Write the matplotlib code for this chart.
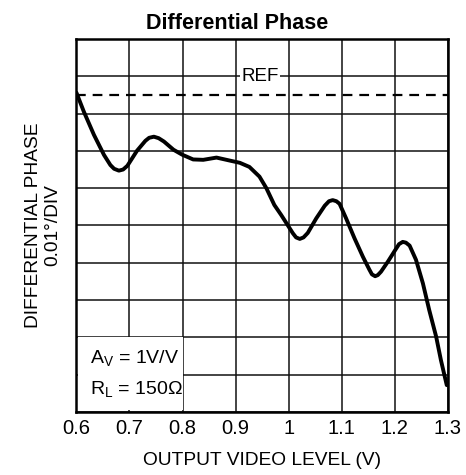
import numpy as np
import matplotlib
matplotlib.use("Agg")
import matplotlib.pyplot as plt
from matplotlib.patches import Rectangle

plt.rcParams['font.family'] = ['Liberation Sans', 'DejaVu Sans']
plt.rcParams['lines.scale_dashes'] = False

# curve: output level (V) vs phase (grid divisions, 0 = bottom)
volts = [0.600, 0.614, 0.633, 0.652, 0.664, 0.671, 0.680, 0.688, 0.696, 0.714,
         0.730, 0.737, 0.746, 0.755, 0.765, 0.783, 0.799, 0.820, 0.839, 0.864,
         0.889, 0.908, 0.926, 0.945, 0.958, 0.973, 0.986, 0.995, 1.008, 1.014,
         1.021, 1.028, 1.036, 1.052, 1.068, 1.076, 1.083, 1.090, 1.096, 1.108,
         1.124, 1.140, 1.152, 1.157, 1.163, 1.168, 1.174, 1.187, 1.199, 1.208,
         1.215, 1.221, 1.228, 1.240, 1.253, 1.265, 1.278, 1.287, 1.298]
phase = [8.56, 8.05, 7.43, 6.89, 6.62, 6.52, 6.47, 6.50, 6.60, 7.00,
         7.27, 7.35, 7.38, 7.34, 7.25, 7.03, 6.90, 6.77, 6.76, 6.82,
         6.74, 6.68, 6.57, 6.31, 6.00, 5.55, 5.28, 5.08, 4.79, 4.68,
         4.64, 4.68, 4.80, 5.19, 5.53, 5.65, 5.68, 5.65, 5.58, 5.20,
         4.66, 4.16, 3.82, 3.69, 3.64, 3.67, 3.76, 4.03, 4.30, 4.50,
         4.56, 4.54, 4.46, 4.08, 3.45, 2.73, 2.02, 1.39, 0.72]
ref_level = 8.5
xticks = [0.6, 0.7, 0.8, 0.9, 1.0, 1.1, 1.2, 1.3]
xtick_labels = ['0.6', '0.7', '0.8', '0.9', '1', '1.1', '1.2', '1.3']

fig = plt.figure(figsize=(4.66, 4.75), dpi=100)
ax = fig.add_axes([0.164, 0.1326, 0.797, 0.7854])
ax.set_xlim(0.6, 1.3)
ax.set_ylim(0, 10)

ax.set_xticks(xticks)
ax.set_xticklabels(xtick_labels, fontsize=14.5)
ax.set_yticks(np.arange(0, 11, 1))
ax.set_yticklabels([])
ax.tick_params(length=0, pad=5)
ax.set_axisbelow(True)
ax.grid(True, color='#111111', lw=1.1)
for s in ax.spines.values():
    s.set_linewidth(1.8)

# white legend box in the lower-left corner
ax.add_patch(Rectangle((0.603, 0.05), 0.197, 1.95, facecolor='white',
                       edgecolor='none', zorder=1))
ax.text(0.6255, 1.43, r'A$_\mathregular{V}$ = 1V/V', fontsize=14, va='center', ha='left', zorder=3)
ax.text(0.6255, 0.6, r'R$_\mathregular{L}$ = 150Ω', fontsize=14, va='center', ha='left', zorder=3)

ax.axhline(ref_level, color='black', lw=1.6, dashes=(7, 5), zorder=2)
ax.text(0.946, 9.0, 'REF', fontsize=13.5, ha='center', va='center', zorder=3,
        bbox=dict(facecolor='white', edgecolor='none', pad=1))

ax.plot(volts, phase, color='black', lw=2.8, solid_capstyle='round',
        solid_joinstyle='round', zorder=4)

fig.suptitle('Differential Phase', fontsize=15.5, fontweight='bold',
             x=0.508, y=0.972, va='top')
ax.set_xlabel('OUTPUT VIDEO LEVEL (V)', fontsize=13.8, labelpad=10)
ax.set_ylabel('DIFFERENTIAL PHASE\n0.01°/DIV', fontsize=13.8, labelpad=6,
              linespacing=1.15)

fig.savefig('out.png', dpi=100)
